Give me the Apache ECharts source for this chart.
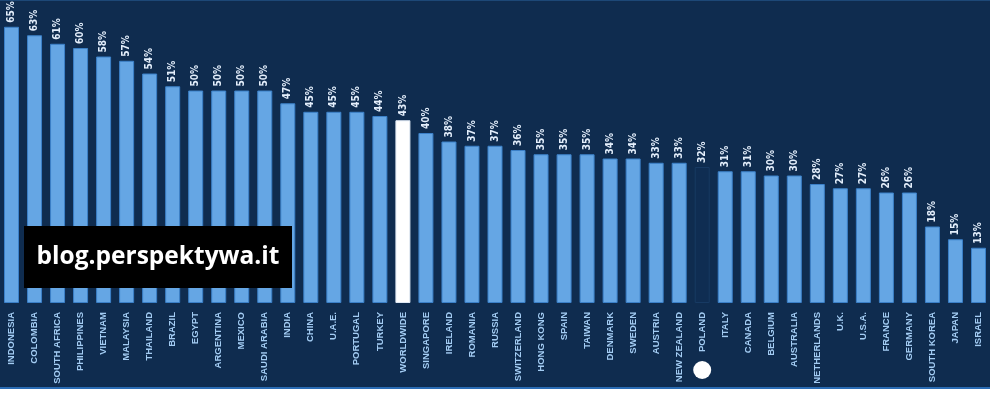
<!DOCTYPE html>
<html>
<head>
<meta charset="utf-8">
<script src="https://cdn.jsdelivr.net/npm/echarts@6/dist/echarts.min.js"></script>
<style>
html,body{margin:0;padding:0;background:#ffffff;}
#c{width:990px;height:393px;}
</style>
</head>
<body>
<div id="c"></div>
<script>
const categories = ["INDONESIA","COLOMBIA","SOUTH AFRICA","PHILIPPINES","VIETNAM","MALAYSIA","THAILAND","BRAZIL","EGYPT","ARGENTINA","MEXICO","SAUDI ARABIA","INDIA","CHINA","U.A.E.","PORTUGAL","TURKEY","WORLDWIDE","SINGAPORE","IRELAND","ROMANIA","RUSSIA","SWITZERLAND","HONG KONG","SPAIN","TAIWAN","DENMARK","SWEDEN","AUSTRIA","NEW ZEALAND","POLAND","ITALY","CANADA","BELGIUM","AUSTRALIA","NETHERLANDS","U.K.","U.S.A.","FRANCE","GERMANY","SOUTH KOREA","JAPAN","ISRAEL"];
const values = [65,63,61,60,58,57,54,51,50,50,50,50,47,45,45,45,44,43,40,38,37,37,36,35,35,35,34,34,33,33,32,31,31,30,30,28,27,27,26,26,18,15,13];
const highlightWhite = "WORLDWIDE";
const highlightDark = "POLAND";
const watermarkText = "blog.perspektywa.it";

const chart = echarts.init(document.getElementById('c'));
const data = values.map((v, i) => {
  const name = categories[i];
  let item = {value: v};
  if (name === highlightWhite) item.itemStyle = {color: '#ffffff', borderColor: '#dfe9f5'};
  if (name === highlightDark) item.itemStyle = {color: '#0f2d52', borderColor: '#173a63'};
  return item;
});

const option = {
  backgroundColor: '#0f2c4f',
  animation: false,
  grid: {left: -1, right: -1, top: 0, bottom: 90, containLabel: false},
  xAxis: {
    type: 'category',
    data: categories,
    axisLine: {show: false},
    axisTick: {show: false},
    axisLabel: {
      rotate: 90,
      interval: 0,
      margin: 9,
      color: '#a3ccf3',
      fontFamily: 'Liberation Sans, Arial, sans-serif',
      fontSize: 9.5,
      fontWeight: 'bold'
    }
  },
  yAxis: {
    type: 'value',
    min: 0,
    max: 71.3,
    show: false,
    splitLine: {show: false}
  },
  series: [{
    type: 'bar',
    data: data,
    barWidth: 15,
    itemStyle: {color: '#65a6e4', borderColor: '#3b80c8', borderWidth: 1},
    label: {
      show: true,
      position: 'top',
      rotate: 90,
      align: 'left',
      verticalAlign: 'middle',
      distance: 4,
      formatter: '{c}%',
      color: '#e3eefb',
      fontFamily: 'DejaVu Sans Condensed, DejaVu Sans, sans-serif',
      fontWeight: 'bold',
      fontSize: 10
    }
  }]
};
chart.setOption(option);

const px = chart.convertToPixel({xAxisIndex: 0}, highlightDark);
chart.setOption({
  graphic: [
    {type: 'rect', shape: {x: 0, y: 0, width: 990, height: 1}, style: {fill: '#1d4877'}, z: 100},
    {type: 'rect', shape: {x: 0, y: 387, width: 990, height: 2}, style: {fill: '#2a6cb4'}, z: 100},
    {type: 'rect', shape: {x: 0, y: 389, width: 990, height: 4}, style: {fill: '#ffffff'}, z: 100},
    {type: 'circle', shape: {cx: px, cy: 370, r: 9}, style: {fill: '#ffffff'}, z: 100},
    {type: 'rect', shape: {x: 24, y: 226, width: 268, height: 62}, style: {fill: '#000000'}, z: 100},
    {type: 'text', x: 158, y: 257, z: 101,
      style: {text: watermarkText, fill: '#ffffff', fontFamily: 'Open Sans, sans-serif', fontWeight: 'bold', fontSize: 24.5, align: 'center', verticalAlign: 'middle'}}
  ]
});
</script>
</body>
</html>
